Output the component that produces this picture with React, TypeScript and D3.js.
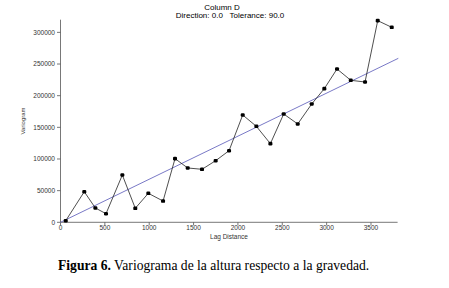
import React from "react";
import * as d3 from "d3";

const lags = [59, 268, 393, 513, 697, 843, 990, 1156, 1291, 1434, 1595, 1749, 1900, 2054, 2208, 2366, 2516, 2674, 2832, 2974, 3117, 3272, 3433, 3576, 3734];
const gammas = [2500, 48300, 22600, 13600, 74700, 22100, 45800, 33600, 100500, 85800, 83700, 97300, 113100, 169500, 151600, 124200, 171100, 155300, 186900, 211100, 242200, 224300, 221600, 318500, 308000];
const modelLags = [0, 3808];
const modelGammas = [0, 259000];
const xTicks = [0, 500, 1000, 1500, 2000, 2500, 3000, 3500];
const yTicks = [0, 50000, 100000, 150000, 200000, 250000, 300000];

export default function App() {
  const x = d3.scaleLinear().domain([0, 3800]).range([60.5, 397.6]);
  const y = d3.scaleLinear().domain([0, 320000]).range([222.3, 19.7]);
  const pts = lags.map((l, i) => [x(l), y(gammas[i])] as [number, number]);
  const line = d3.line()(pts) || "";
  const model = d3.line()(modelLags.map((l, i) => [x(l), y(modelGammas[i])] as [number, number])) || "";
  const sans = "'Liberation Sans', Arial, sans-serif";
  return (
    <svg width={449} height={288} style={{ position: "absolute", left: 0, top: 0, background: "#fff" }}>
      <text x={222} y={10} fontFamily={sans} fontSize={8} textAnchor="middle">Column D</text>
      <text x={230} y={17.5} fontFamily={sans} fontSize={8} textAnchor="middle">Direction: 0.0{"\u00a0\u00a0\u00a0"}Tolerance: 90.0</text>
      <line x1={60.5} x2={60.5} y1={y(320000)} y2={y(0)} stroke="#555" strokeWidth={0.8} />
      <line x1={60.5} x2={x(3800)} y1={y(0)} y2={y(0)} stroke="#555" strokeWidth={0.8} />
      {yTicks.map((t) => (
        <g key={t}>
          <line x1={57} x2={60.5} y1={y(t)} y2={y(t)} stroke="#555" strokeWidth={0.8} />
          <text x={55} y={y(t) + 2.3} fontFamily={sans} fontSize={6.5} textAnchor="end" fill="#333">{t}</text>
        </g>
      ))}
      {xTicks.map((t) => (
        <g key={t}>
          <line x1={x(t)} x2={x(t)} y1={y(0)} y2={y(0) + 3} stroke="#555" strokeWidth={0.8} />
          <text x={x(t)} y={230} fontFamily={sans} fontSize={6.5} textAnchor="middle" fill="#333">{t}</text>
        </g>
      ))}
      <text x={229} y={238.5} fontFamily={sans} fontSize={6.5} textAnchor="middle" fill="#333">Lag Distance</text>
      <text transform="translate(25,121) rotate(-90)" fontFamily={sans} fontSize={6} textAnchor="middle" fill="#333">Variogram</text>
      <path d={model} fill="none" stroke="#6a6ac0" strokeWidth={0.9} />
      <path d={line} fill="none" stroke="#222" strokeWidth={0.8} />
      {pts.map(([px, py], i) => (
        <rect key={i} x={px - 2} y={py - 1.8} width={4} height={3.6} rx={1.2} fill="#000" />
      ))}
      <text x={58} y={270} fontFamily="'Liberation Serif', 'Times New Roman', serif" fontSize={13.6}>
        <tspan fontWeight="bold">Figura 6.</tspan> Variograma de la altura respecto a la gravedad.
      </text>
    </svg>
  );
}
